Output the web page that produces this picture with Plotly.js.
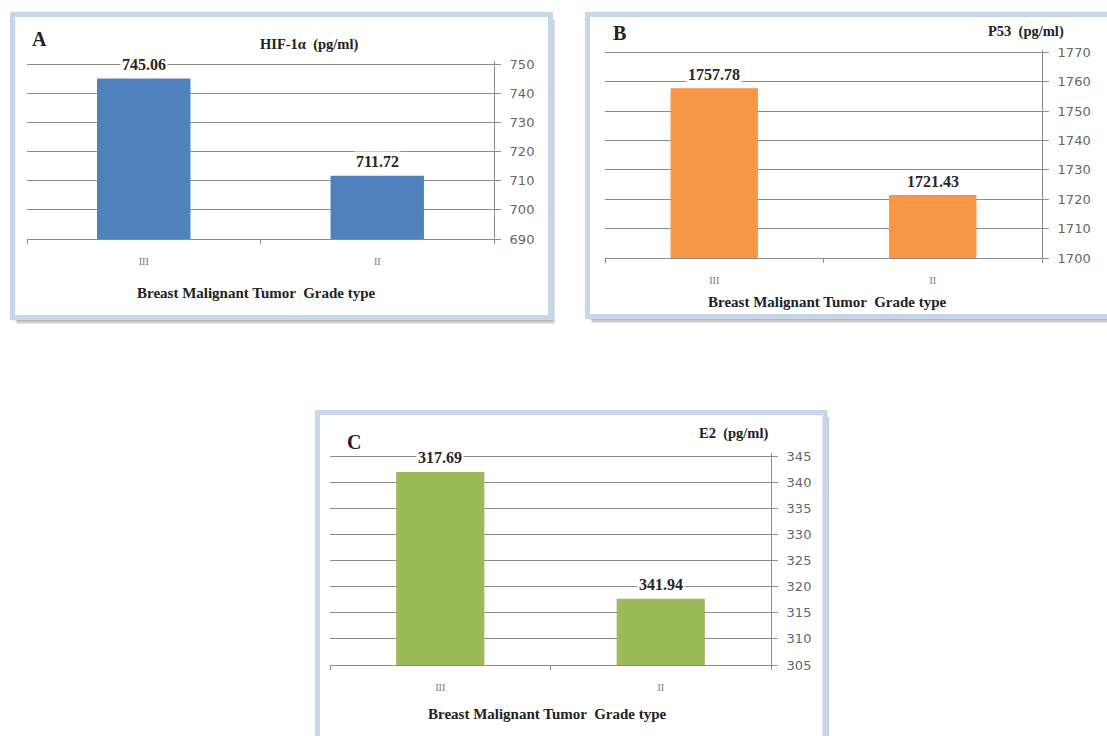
<!DOCTYPE html>
<html>
<head>
<meta charset="utf-8">
<script src="https://cdn.plot.ly/plotly-3.0.1.min.js"></script>
<style>html,body{margin:0;padding:0;background:#fff;}#chart{width:1107px;height:736px;}</style>
</head>
<body>
<div id="chart"></div>
<script>
// ---- data ----
const grades = ["III", "II"];
const hifValues = [745.06, 711.72];
const hifLabels = ["745.06", "711.72"];
const p53Values = [1757.78, 1721.43];
const p53Labels = ["1757.78", "1721.43"];
const e2Values = [341.94, 317.69];
const e2Labels = ["317.69", "341.94"];   // printed labels as they appear in the figure
const hifTicks = [690, 700, 710, 720, 730, 740, 750];
const p53Ticks = [1700, 1710, 1720, 1730, 1740, 1750, 1760, 1770];
const e2Ticks = [305, 310, 315, 320, 325, 330, 335, 340, 345];
const panelLetters = ["A", "B", "C"];
const panelTitles = ["HIF-1\u03b1  (pg/ml)", "P53  (pg/ml)", "E2  (pg/ml)"];
const xTitle = "Breast Malignant Tumor  Grade type";

// ---- layout helpers ----
const W = 1107, H = 736;
const px = x => x / W;
const py = y => 1 - y / H;

const serif = "Liberation Serif, Times New Roman, serif";
const sans = "DejaVu Sans, Verdana, sans-serif";
const gridCol = "#8c8c8c";

const colors = ["#4f81bd", "#f79646", "#9bbb59"];

function bar(xa, ya, vals, col) {
  return {type: "bar", x: grades, y: vals, xaxis: xa, yaxis: ya,
    marker: {color: col, line: {width: 0}}, width: 0.4, hoverinfo: "skip", showlegend: false};
}
const traces = [
  bar("x", "y", hifValues, colors[0]),
  bar("x2", "y2", p53Values, colors[1]),
  bar("x3", "y3", e2Values, colors[2])
];

function xaxis(domain, anchor) {
  return {domain: domain, anchor: anchor, type: "category", categoryorder: "array", categoryarray: grades,
    showline: true, linecolor: gridCol, linewidth: 1, ticks: "outside", tickson: "boundaries",
    ticklen: 4, tickcolor: gridCol, showgrid: false, zeroline: false,
    tickfont: {family: serif, size: 10, color: "#777"}, ticklabelstandoff: 13, fixedrange: true};
}
// topPx/botPx: pixel rows of the top and bottom tick values; a few px of headroom
// are added so that the top gridline is drawn like in the original
function yaxis(anchor, topPx, botPx, range, ticks) {
  const head = 3;
  const span = range[1] - range[0];
  return {domain: [py(botPx), py(topPx - head)], anchor: anchor, side: "right",
    range: [range[0], range[1] + span * head / (botPx - topPx)], tickvals: ticks,
    showline: true, linecolor: gridCol, linewidth: 1, ticks: "outside", ticklen: 6, tickcolor: gridCol,
    showgrid: true, gridcolor: gridCol, gridwidth: 1, zeroline: false,
    tickfont: {family: sans, size: 13, color: "#666"}, ticklabelstandoff: 6, fixedrange: true};
}

// panel boxes (border + shadow)
function box(x0, y0, x1, y1) {
  return [
    {type: "rect", xref: "paper", yref: "paper", x0: px(x0 + 4), x1: px(x1 + 4), y0: py(y0 + 5), y1: py(y1 + 6),
      fillcolor: "rgba(110,110,110,0.35)", line: {width: 0}, layer: "below"},
    {type: "rect", xref: "paper", yref: "paper", x0: px(x0 + 2), x1: px(x1 + 2), y0: py(y0 + 2), y1: py(y1 + 3),
      fillcolor: "rgba(110,110,110,0.45)", line: {width: 0}, layer: "below"},
    {type: "rect", xref: "paper", yref: "paper", x0: px(x0), x1: px(x1), y0: py(y0), y1: py(y1),
      fillcolor: "#ffffff", line: {color: "#c8d6ea", width: 5}, layer: "below"}
  ];
}
const shapes = [].concat(
  box(12.5, 14.5, 550.5, 317.5),
  box(587.5, 14.5, 1118, 316.5),
  box(317.5, 412.5, 825, 750)
);

function valueAnn(xa, ya, vals, labels) {
  return grades.map((g, i) => ({xref: xa, yref: ya, x: g, y: vals[i], text: "<b>" + labels[i] + "</b>",
    showarrow: false, yanchor: "middle", yshift: 14, bgcolor: "#ffffff", borderpad: 1,
    font: {family: serif, size: 16, color: "#262626"}}));
}
function paperText(text, x, y, size, xanchor) {
  return {xref: "paper", yref: "paper", x: px(x), y: py(y), text: "<b>" + text + "</b>", showarrow: false,
    xanchor: xanchor || "center", yanchor: "middle", font: {family: serif, size: size, color: "#222"}};
}

const annotations = [].concat(
  valueAnn("x", "y", hifValues, hifLabels),
  valueAnn("x2", "y2", p53Values, p53Labels),
  valueAnn("x3", "y3", e2Values, e2Labels),
  [
    paperText(panelLetters[0], 39, 39, 20),
    paperText(panelLetters[1], 619, 33, 20),
    paperText(panelLetters[2], 354, 442, 20),
    paperText(panelTitles[0], 309, 44, 14.5),
    paperText(panelTitles[1], 1026, 32, 14.5),
    paperText(panelTitles[2], 733, 433, 14.5),
    paperText(xTitle, 256, 293, 15),
    paperText(xTitle, 827, 302, 15),
    paperText(xTitle, 547, 714, 15)
  ]
);

const layout = {
  width: W, height: H, margin: {l: 0, r: 0, t: 0, b: 0, pad: 0},
  paper_bgcolor: "#ffffff", plot_bgcolor: "rgba(0,0,0,0)", showlegend: false,
  xaxis: xaxis([px(27), px(494)], "y"),
  yaxis: yaxis("x", 64, 239, [690, 750], hifTicks),
  xaxis2: xaxis([px(605), px(1042)], "y2"),
  yaxis2: yaxis("x2", 52.5, 258, [1700, 1770], p53Ticks),
  xaxis3: xaxis([px(330), px(771)], "y3"),
  yaxis3: yaxis("x3", 456, 665, [305, 345], e2Ticks),
  shapes: shapes,
  annotations: annotations
};

Plotly.newPlot("chart", traces, layout, {staticPlot: true, displayModeBar: false});
</script>
</body>
</html>
